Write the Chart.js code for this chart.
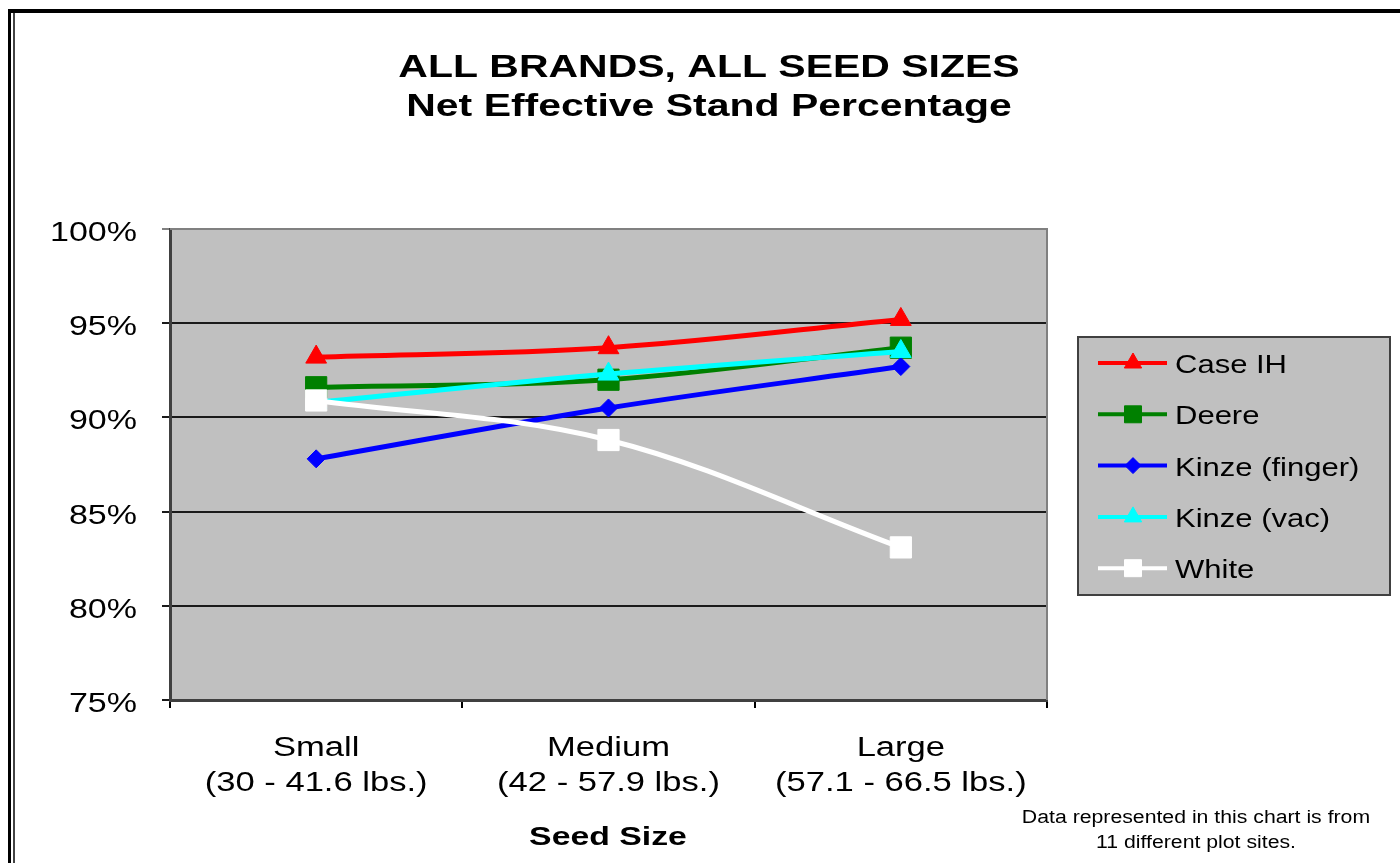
<!DOCTYPE html>
<html>
<head>
<meta charset="utf-8">
<title>Net Effective Stand Percentage</title>
<script src="https://cdn.jsdelivr.net/npm/chart.js@4/dist/chart.umd.min.js"></script>
<style>
  html, body { margin: 0; padding: 0; background: #fff; }
  #wrap { width: 1400px; height: 863px; position: relative; }
</style>
</head>
<body>
<div id="wrap"><canvas id="chart" width="1400" height="863"></canvas></div>
<script>
// chart data
const categories = [
  ['Small', '(30 - 41.6 lbs.)'],
  ['Medium', '(42 - 57.9 lbs.)'],
  ['Large', '(57.1 - 66.5 lbs.)']
];
const seriesNames = ['Case IH', 'Deere', 'Kinze (finger)', 'Kinze (vac)', 'White'];
const caseIH = [93.2, 93.7, 95.2];
const deere = [91.6, 92.0, 93.7];
const kinzeFinger = [87.8, 90.5, 92.7];
const kinzeVac = [90.8, 92.3, 93.5];
const white = [90.9, 88.8, 83.1];
const yTicks = [75, 80, 85, 90, 95, 100];

const titleLines = ['ALL BRANDS, ALL SEED SIZES', 'Net Effective Stand Percentage'];
const xTitle = 'Seed Size';
const noteLines = ['Data represented in this chart is from', '11 different plot sites.'];

const FONT = "'Liberation Sans', Arial, sans-serif";
// the original text is a bit wider than Arial, stretch it sideways
const STRETCH = 1.28;

// styles per series
const colors = ['#FF0000', '#008000', '#0000FF', '#00FFFF', '#FFFFFF'];
const markers = ['triangle', 'rect', 'rectRot', 'triangle', 'rect'];
const radii = [12, 15, 9, 12, 15];
const legendRadii = [10, 12, 8, 10, 12];
const values = [caseIH, deere, kinzeFinger, kinzeVac, white];

const datasets = seriesNames.map((name, i) => ({
  label: name,
  data: values[i],
  borderColor: colors[i],
  backgroundColor: colors[i],
  borderWidth: 5,
  pointStyle: markers[i],
  pointRadius: radii[i],
  pointBorderWidth: 1,
  pointBorderColor: colors[i],
  pointBackgroundColor: colors[i],
  tension: 0.35,
  order: seriesNames.length - i // later series on top, like Excel
}));

function stretchText(ctx, text, x, y, align, font, sx) {
  ctx.save();
  ctx.font = font;
  ctx.textAlign = align;
  ctx.textBaseline = 'alphabetic';
  ctx.translate(x, y);
  ctx.scale(sx, 1);
  ctx.fillText(text, 0, 0);
  ctx.restore();
}

// plot background, plot frame, page frame, texts and legend
const decorations = {
  id: 'decorations',
  beforeDraw(chart) {
    const { ctx, chartArea: a } = chart;
    ctx.save();
    ctx.fillStyle = '#C0C0C0';
    ctx.fillRect(a.left, a.top, a.right - a.left, a.bottom - a.top);
    ctx.restore();
  },
  beforeDatasetsDraw(chart) {
    const { ctx, chartArea: a } = chart;
    ctx.save();
    ctx.strokeStyle = '#808080';
    ctx.lineWidth = 2;
    ctx.beginPath();
    ctx.moveTo(a.left, a.top);
    ctx.lineTo(a.right, a.top);
    ctx.lineTo(a.right, a.bottom);
    ctx.stroke();
    ctx.restore();
  },
  afterDraw(chart) {
    const { ctx } = chart;
    const xs = chart.scales.x, ys = chart.scales.y;
    ctx.save();

    // page frame
    ctx.fillStyle = '#000';
    ctx.fillRect(8, 9, 1392, 4);
    ctx.fillRect(8, 9, 3, 854);
    ctx.fillStyle = '#444';
    ctx.fillRect(13, 13, 2, 850);

    ctx.fillStyle = '#000';

    // title
    stretchText(ctx, titleLines[0], 709, 77, 'center', 'bold 32px ' + FONT, STRETCH);
    stretchText(ctx, titleLines[1], 709, 116, 'center', 'bold 32px ' + FONT, STRETCH);

    // y tick labels
    yTicks.forEach(v => {
      const y = ys.getPixelForValue(v);
      stretchText(ctx, v + '%', 137, y + 12, 'right', '27px ' + FONT, 1.26);
    });

    // x tick labels
    chart.data.labels.forEach((lines, i) => {
      const x = xs.getPixelForValue(i);
      lines.forEach((line, k) => {
        stretchText(ctx, line, x, 756 + k * 35, 'center', '27px ' + FONT, STRETCH);
      });
    });

    // x axis title
    stretchText(ctx, xTitle, 608, 845, 'center', 'bold 26px ' + FONT, 1.3);

    // note
    stretchText(ctx, noteLines[0], 1196, 823, 'center', '18px ' + FONT, 1.18);
    stretchText(ctx, noteLines[1], 1196, 848, 'center', '18px ' + FONT, 1.18);

    // legend
    const lx = 1078, ly = 337, lw = 312, lh = 258;
    ctx.fillStyle = '#C0C0C0';
    ctx.fillRect(lx, ly, lw, lh);
    ctx.strokeStyle = '#404040';
    ctx.lineWidth = 2;
    ctx.strokeRect(lx, ly, lw, lh);

    chart.data.datasets.forEach((ds, i) => {
      const y = 363 + i * 51.3;
      ctx.strokeStyle = ds.borderColor;
      ctx.lineWidth = 4;
      ctx.beginPath();
      ctx.moveTo(1098, y);
      ctx.lineTo(1167, y);
      ctx.stroke();
      ctx.fillStyle = ds.pointBackgroundColor;
      ctx.strokeStyle = ds.pointBorderColor;
      ctx.lineWidth = 1;
      Chart.helpers.drawPoint(ctx, {
        pointStyle: ds.pointStyle,
        radius: legendRadii[i],
        rotation: 0,
        borderWidth: 1
      }, 1133, y);
      ctx.fillStyle = '#000';
      stretchText(ctx, ds.label, 1175, y + 10, 'left', '25px ' + FONT, 1.24);
    });

    ctx.restore();
  }
};

const chart = new Chart(document.getElementById('chart'), {
  type: 'line',
  data: { labels: categories, datasets: datasets },
  plugins: [decorations],
  options: {
    responsive: false,
    animation: false,
    events: [],
    layout: { padding: { top: 229, right: 353, bottom: 0, left: 0 } },
    plugins: {
      legend: { display: false },
      title: { display: false },
      tooltip: { enabled: false }
    },
    scales: {
      x: {
        offset: true,
        afterFit(scale) { scale.height = 163; },
        grid: {
          offset: true,
          drawOnChartArea: false,
          drawTicks: true,
          tickLength: 8,
          color: '#000',
          lineWidth: 2
        },
        border: { color: '#404040', width: 3 },
        ticks: { display: false, autoSkip: false, maxRotation: 0 }
      },
      y: {
        min: yTicks[0],
        max: yTicks[yTicks.length - 1],
        afterFit(scale) { scale.width = 170; },
        afterBuildTicks(scale) { scale.ticks = yTicks.map(v => ({ value: v })); },
        grid: {
          drawTicks: true,
          tickLength: 8,
          color: ctx => (ctx.tick && ctx.tick.value === 100 ? '#808080' : '#1a1a1a'),
          lineWidth: 2
        },
        border: { color: '#404040', width: 3 },
        ticks: { display: false }
      }
    }
  }
});
</script>
</body>
</html>
